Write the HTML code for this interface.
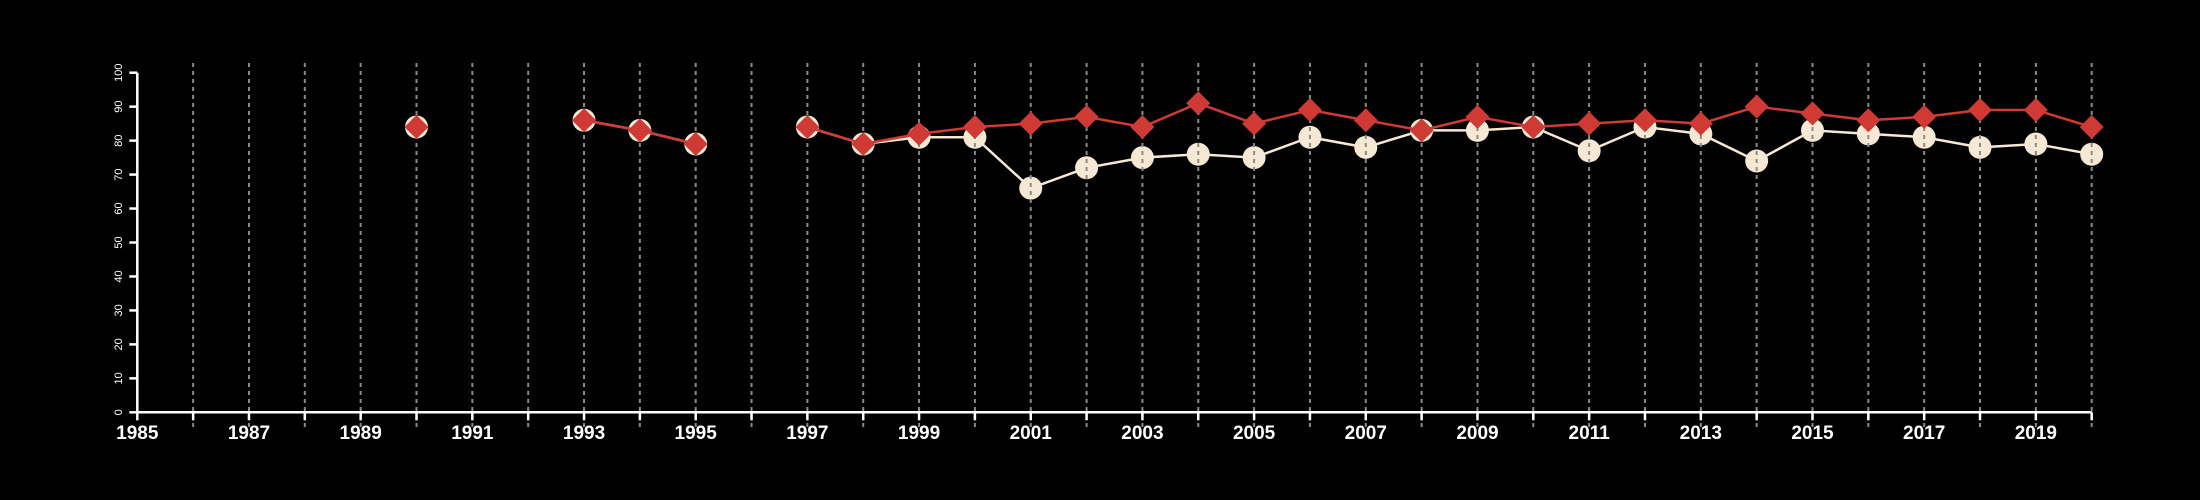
<!DOCTYPE html>
<html><head><meta charset="utf-8"><style>html,body{margin:0;padding:0;background:#000;}svg{display:block;}</style></head>
<body>
<svg id="chart" width="2200" height="500" xmlns="http://www.w3.org/2000/svg" style="background:#000;font-family:'Liberation Sans',sans-serif"></svg>
<script>
const years = [1990,1993,1994,1995,1997,1998,1999,2000,2001,2002,2003,2004,2005,2006,2007,2008,2009,2010,2011,2012,2013,2014,2015,2016,2017,2018,2019,2020];
const seriesRed = [84,86,83,79,84,79,82,84,85,87,84,91,85,89,86,83,87,84,85,86,85,90,88,86,87,89,89,84];
const seriesCream = [84,86,83,79,84,79,81,81,66,72,75,76,75,81,78,83,83,84,77,84,82,74,83,82,81,78,79,76];
const xTickLabels = [1985,1987,1989,1991,1993,1995,1997,1999,2001,2003,2005,2007,2009,2011,2013,2015,2017,2019];
const yTickLabels = [0,10,20,30,40,50,60,70,80,90,100];
const NS='http://www.w3.org/2000/svg';
const svg=document.getElementById('chart');
const x0=137.3,x1=2091.7,yMinYear=1985,yMaxYear=2020,py0=412.3,py1=72.7;
const X=v=>x0+(v-yMinYear)/(yMaxYear-yMinYear)*(x1-x0);
const Y=v=>py0-(v/100)*(py0-py1);
function el(t,a,p){const e=document.createElementNS(NS,t);for(const k in a)e.setAttribute(k,a[k]);(p||svg).appendChild(e);return e;}
function segs(vals){const out=[];let cur=[];for(let i=0;i<years.length;i++){if(i>0&&years[i]-years[i-1]>1){out.push(cur);cur=[];}cur.push([X(years[i]),Y(vals[i])]);}out.push(cur);return out;}
// cream series
const gC=el('g',{});


segs(seriesCream).forEach(s=>{if(s.length>1){const l=el('polyline',{points:s.map(p=>p.join(',')).join(' '),fill:'none',stroke:'#f7e8d4','stroke-width':2.5},gC);}});
years.forEach((yr,i)=>{const c=el('circle',{cx:X(yr),cy:Y(seriesCream[i]),r:11.5,fill:'#f7e8d4'},gC);});
// grid
const gG=el('g',{});


for(let yr=1986;yr<=2020;yr++){const l=el('line',{x1:X(yr),x2:X(yr),y1:63,y2:428,stroke:'#8a8a8a','stroke-width':2,'stroke-dasharray':'4,4'},gG);}
// red series
const gR=el('g',{});


segs(seriesRed).forEach(s=>{if(s.length>1){const l=el('polyline',{points:s.map(p=>p.join(',')).join(' '),fill:'none',stroke:'#d03a35','stroke-width':2.5},gR);}});
years.forEach((yr,i)=>{const cx=X(yr),cy=Y(seriesRed[i]),d=12;const p=el('polygon',{points:`${cx},${cy-d} ${cx+d},${cy} ${cx},${cy+d} ${cx-d},${cy}`,fill:'#d03a35'},gR);});
// axes
const gA=el('g',{});


el('line',{x1:x0,x2:x1,y1:py0,y2:py0,stroke:'#fff','stroke-width':2.5},gA);
el('line',{x1:x0,x2:x0,y1:py0,y2:py1,stroke:'#fff','stroke-width':2.5},gA);
for(let yr=1985;yr<=2020;yr++){el('line',{x1:X(yr),x2:X(yr),y1:py0,y2:py0+8,stroke:'#fff','stroke-width':2.5},gA);}
xTickLabels.forEach(v=>{const t=el('text',{x:X(v),y:439,fill:'#fff','font-size':19,'font-weight':'bold','text-anchor':'middle'},gA);t.textContent=v;});
yTickLabels.forEach(v=>{const y=Y(v);el('line',{x1:x0,x2:x0-8,y1:y,y2:y,stroke:'#fff','stroke-width':2.5},gA);const t=el('text',{x:0,y:0,fill:'#fff','font-size':11,'text-anchor':'middle',transform:`translate(122,${y}) rotate(-90)`},gA);t.textContent=v;});
</script>
</body></html>
